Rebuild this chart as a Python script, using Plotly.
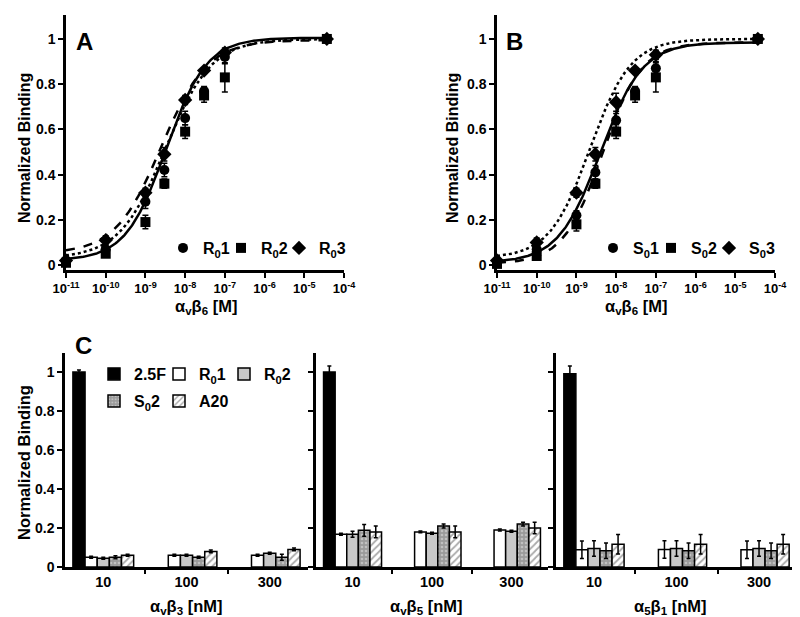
import numpy as np
import plotly.graph_objects as go

W, H = 800, 617

# ---------------- Panels A & B data ----------------
conc_M = [1e-11, 1e-10, 1e-9, 3e-9, 1e-8, 3e-8, 1e-7, 3.7e-5]
tick_exponents = [-11, -10, -9, -8, -7, -6, -5, -4]

R01 = [0.02, 0.07, 0.28, 0.42, 0.65, 0.77, 0.92, 1.0]
R01_err = [0.01, 0.01, 0.03, 0.03, 0.03, 0.02, 0.03, 0.0]
R02 = [0.01, 0.05, 0.19, 0.36, 0.59, 0.75, 0.83, 1.0]
R02_err = [0.01, 0.01, 0.03, 0.02, 0.03, 0.03, 0.065, 0.0]
R03 = [0.02, 0.11, 0.32, 0.49, 0.73, 0.86, 0.94, 1.0]
R03_err = [0.01, 0.02, 0.02, 0.03, 0.02, 0.01, 0.02, 0.0]

S01 = [0.01, 0.07, 0.22, 0.41, 0.64, 0.77, 0.87, 1.0]
S01_err = [0.01, 0.01, 0.02, 0.03, 0.03, 0.02, 0.03, 0.0]
S02 = [0.005, 0.04, 0.18, 0.36, 0.59, 0.75, 0.83, 1.0]
S02_err = [0.01, 0.01, 0.03, 0.02, 0.03, 0.03, 0.065, 0.0]
S03 = [0.02, 0.10, 0.32, 0.49, 0.72, 0.86, 0.93, 1.0]
S03_err = [0.01, 0.02, 0.02, 0.03, 0.04, 0.01, 0.02, 0.0]

# fitted 4-parameter logistic: [bottom, top, EC50 (M), hill]
fit_R01 = [0.02, 1.005, 3.3e-9, 0.85]
fit_R02 = [0.03, 1.0, 3.2e-9, 0.75]
fit_R03 = [0.05, 0.995, 2.5e-9, 0.75]
fit_S01 = [0.01, 0.985, 4.0e-9, 0.82]
fit_S02 = [0.005, 0.985, 4.5e-9, 0.88]
fit_S03 = [0.03, 1.0, 2.2e-9, 0.85]

# ---------------- Panel C data ----------------
conc_nM = ["10", "100", "300"]
series_C = ["2.5F", "R<sub>0</sub>1", "R<sub>0</sub>2", "S<sub>0</sub>2", "A20"]

b3_vals = {
    "2.5F": [1.0, None, None], "R01": [0.05, 0.06, 0.06], "R02": [0.045, 0.06, 0.07],
    "S02": [0.05, 0.05, 0.05], "A20": [0.06, 0.08, 0.09]}
b3_errs = {
    "2.5F": [0.01, 0, 0], "R01": [0.005, 0.005, 0.005], "R02": [0.005, 0.005, 0.005],
    "S02": [0.008, 0.005, 0.015], "A20": [0.005, 0.007, 0.007]}
b5_vals = {
    "2.5F": [1.0, None, None], "R01": [0.168, 0.18, 0.19], "R02": [0.168, 0.173, 0.183],
    "S02": [0.188, 0.21, 0.22], "A20": [0.18, 0.18, 0.20]}
b5_errs = {
    "2.5F": [0.03, 0, 0], "R01": [0.005, 0.005, 0.005], "R02": [0.015, 0.005, 0.005],
    "S02": [0.03, 0.01, 0.01], "A20": [0.03, 0.03, 0.03]}
a5b1_vals = {
    "2.5F": [0.99, None, None], "R01": [0.088, 0.09, 0.088], "R02": [0.095, 0.095, 0.095],
    "S02": [0.083, 0.083, 0.083], "A20": [0.117, 0.117, 0.117]}
a5b1_errs = {
    "2.5F": [0.04, 0, 0], "R01": [0.045, 0.045, 0.045], "R02": [0.04, 0.04, 0.04],
    "S02": [0.04, 0.04, 0.04], "A20": [0.05, 0.05, 0.05]}

FONT = "Liberation Sans, Arial, sans-serif"


def px_x(a, b):
    return [a / W, b / W]


def px_y(top, bottom):
    return [1 - bottom / H, 1 - top / H]


def logistic(p, x):
    b, t, c, h = p
    x = np.asarray(x)
    return b + (t - b) / (1 + (c / x) ** h)


def spacer(xa, ya, leg):
    # invisible trailing legend entry so the last real entry's text is not clipped
    return go.Scatter(x=[None], y=[None], mode="markers", name=" ", xaxis=xa, yaxis=ya,
                      legend=leg, showlegend=True, hoverinfo="skip",
                      marker=dict(color="rgba(0,0,0,0)", size=1))


fig = go.Figure()
xfit = np.logspace(-11, np.log10(conc_M[-1]), 300)

marker_syms = ["circle", "square", "diamond"]

panelAB = [
    ("x", "y", "legend3", [("R<sub>0</sub>1", R01, R01_err, fit_R01, "solid"),
                           ("R<sub>0</sub>2", R02, R02_err, fit_R02, "dot"),
                           ("R<sub>0</sub>3", R03, R03_err, fit_R03, "dash")]),
    ("x2", "y2", "legend4", [("S<sub>0</sub>1", S01, S01_err, fit_S01, "solid"),
                             ("S<sub>0</sub>2", S02, S02_err, fit_S02, "dash"),
                             ("S<sub>0</sub>3", S03, S03_err, fit_S03, "dot")]),
]
for xa, ya, leg, series in panelAB:
    for (name, vals, errs, fit, dash) in series:
        fig.add_trace(go.Scatter(
            x=xfit, y=logistic(fit, xfit), mode="lines", xaxis=xa, yaxis=ya,
            line=dict(color="black", width=2.5, dash=dash), showlegend=False,
            hoverinfo="skip", cliponaxis=False))
    for i, (name, vals, errs, fit, dash) in enumerate(series):
        fig.add_trace(go.Scatter(
            x=conc_M, y=vals, mode="markers", name=name, xaxis=xa, yaxis=ya,
            legend=leg, cliponaxis=False,
            marker=dict(symbol=marker_syms[i], color="black", size=10 if i != 2 else 11),
            error_y=dict(type="data", array=errs, color="black", thickness=1.5, width=3)))
    fig.add_trace(spacer(xa, ya, leg))

# bar styles
bar_styles = {
    "2.5F": dict(color="black"),
    "R01": dict(color="white"),
    "R02": dict(color="#c8c8c8"),
    "S02": dict(color="#9a9a9a", pattern=dict(shape=".", fgcolor="#e6e6e6", size=4,
                                              solidity=0.35, fillmode="overlay")),
    "A20": dict(color="white", pattern=dict(shape="/", fgcolor="#555555", size=5,
                                            solidity=0.35, fillmode="overlay")),
}
keys = ["2.5F", "R01", "R02", "S02", "A20"]
legend_of = {"2.5F": "legend", "R01": "legend", "R02": "legend", "S02": "legend2", "A20": "legend2"}

for k_ax, (vals, errs) in enumerate([(b3_vals, b3_errs), (b5_vals, b5_errs), (a5b1_vals, a5b1_errs)]):
    xa = "x%d" % (k_ax + 3)
    ya = "y%d" % (k_ax + 3)
    for key, label in zip(keys, series_C):
        st = bar_styles[key]
        fig.add_trace(go.Bar(
            x=conc_nM, y=vals[key], name=label, xaxis=xa, yaxis=ya,
            legend=legend_of[key], showlegend=(k_ax == 0), legendgroup=key,
            marker=dict(color=st["color"], line=dict(color="black", width=1.5),
                        pattern=st.get("pattern", None)),
            error_y=dict(type="data", array=errs[key], color="black", thickness=1.5, width=2)))

fig.add_trace(spacer("x3", "y3", "legend"))
fig.add_trace(spacer("x3", "y3", "legend2"))

axis_common = dict(showline=True, linecolor="black", linewidth=2.5, ticks="outside",
                   tickcolor="black", tickwidth=2, ticklen=5, showgrid=False, zeroline=False,
                   automargin=False,
                   tickfont=dict(family=FONT, size=14, color="black", weight="bold"))

yAB = dict(axis_common, range=[-0.022, 1.106], tickvals=[0, 0.2, 0.4, 0.6, 0.8, 1.0],
           ticktext=["0", "0.2", "0.4", "0.6", "0.8", "1"])
xAB = dict(axis_common, type="log", range=[-11, -4],
           tickvals=[10.0 ** e for e in tick_exponents],
           ticktext=["10<sup>%d</sup>" % e for e in tick_exponents])
xAB["tickfont"] = dict(family=FONT, size=13, color="black", weight="bold")

yC = dict(axis_common, range=[0, 1.097], tickvals=[0, 0.2, 0.4, 0.6, 0.8, 1.0],
          ticktext=["0", "0.2", "0.4", "0.6", "0.8", "1"])
xC = dict(axis_common, type="category", range=[-0.46, 2.46], tickson="boundaries", ticklen=4)
xC["tickfont"] = dict(family=FONT, size=14.5, color="black", weight="bold")

fig.update_layout(
    template="none",
    width=W, height=H, margin=dict(l=0, r=0, t=0, b=0, autoexpand=False),
    plot_bgcolor="white", paper_bgcolor="white",
    font=dict(family=FONT, color="black"),
    barmode="group", bargap=0.27, bargroupgap=0,
    xaxis=dict(xAB, domain=px_x(58, 336), anchor="y"),
    yaxis=dict(yAB, domain=px_y(7, 262), anchor="x"),
    xaxis2=dict(xAB, domain=px_x(489, 767), anchor="y2"),
    yaxis2=dict(yAB, domain=px_y(7, 262), anchor="x2"),
    xaxis3=dict(xC, domain=px_x(57, 300), anchor="y3"),
    yaxis3=dict(yC, domain=px_y(345, 559), anchor="x3"),
    xaxis4=dict(xC, domain=px_x(308, 540), anchor="y4"),
    yaxis4=dict(yC, domain=px_y(345, 559), anchor="x4", showticklabels=False),
    xaxis5=dict(xC, domain=px_x(548, 789), anchor="y5"),
    yaxis5=dict(yC, domain=px_y(345, 559), anchor="x5", showticklabels=False),
)

leg_font = dict(family=FONT, size=16, color="black", weight="bold")
common_leg = dict(orientation="h", bgcolor="rgba(0,0,0,0)", borderwidth=0, font=leg_font,
                  xanchor="left", yanchor="middle", entrywidthmode="pixels",
                  itemclick=False, itemdoubleclick=False, tracegroupgap=0)
fig.update_layout(
    legend=dict(common_leg, x=86 / W, y=1 - 366 / H, entrywidth=20),
    legend2=dict(common_leg, x=86 / W, y=1 - 393 / H, entrywidth=20),
    legend3=dict(common_leg, x=155 / W, y=1 - 240 / H, entrywidth=13),
    legend4=dict(common_leg, x=585 / W, y=1 - 240 / H, entrywidth=13),
)

ann = []


def add_text(text, x, y, size, weight="bold", angle=0, xanchor="center"):
    ann.append(dict(text=text, x=x / W, y=1 - y / H, xref="paper", yref="paper",
                    showarrow=False, textangle=angle, xanchor=xanchor, yanchor="middle",
                    font=dict(family=FONT, size=size, color="black", weight=weight)))


add_text("A", 66, 34, 24, xanchor="left")
add_text("B", 496, 34, 24, xanchor="left")
add_text("C", 65, 337, 24, xanchor="left")
add_text("Normalized Binding", 16, 140, 16, angle=-90)
add_text("Normalized Binding", 444, 140, 16, angle=-90)
add_text("Normalized Binding", 16, 455, 16.5, angle=-90)
add_text("α<sub>v</sub>β<sub>6</sub> [M]", 198, 299, 16.5)
add_text("α<sub>v</sub>β<sub>6</sub> [M]", 628, 299, 16.5)
add_text("α<sub>v</sub>β<sub>3</sub> [nM]", 178, 599, 16.5)
add_text("α<sub>v</sub>β<sub>5</sub> [nM]", 418, 599, 16.5)
add_text("α<sub>5</sub>β<sub>1</sub> [nM]", 662, 599, 16.5)
fig.update_layout(annotations=ann)

fig.write_html("out.html")
